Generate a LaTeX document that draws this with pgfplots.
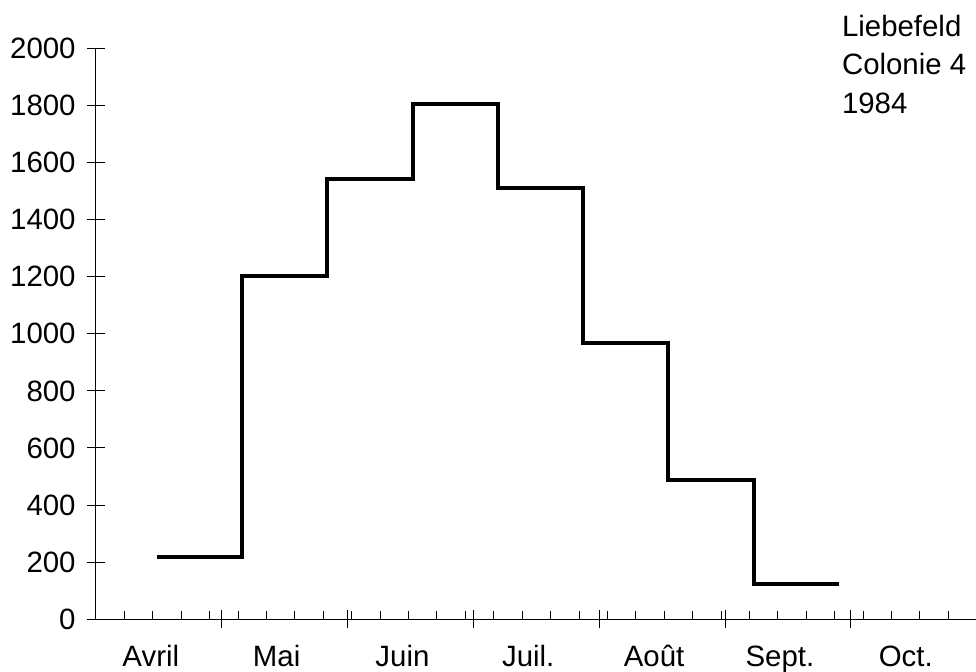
\documentclass[border=0pt]{standalone}
\usepackage{fontspec}
\setmainfont{Liberation Sans}
\usepackage{pgfplots}
\pgfplotsset{compat=1.18}
\newcommand{\lblfont}{\fontsize{14.7}{17.6}\selectfont}
\begin{document}
\lblfont
\begin{tikzpicture}
\begin{axis}[
  scale only axis,
  width=440pt, height=285.5pt,
  xmin=0, xmax=216.8,
  ymin=0, ymax=2000,
  axis x line*=bottom,
  axis y line*=left,
  axis line style={line width=0.5pt},
  clip=false,
  /pgf/number format/assume math mode=true,
  /pgf/number format/1000 sep={},
  tick label style={font=\lblfont},
  tick style={line width=0.5pt, black},
  tick align=center,
  major tick length=9pt,
  minor tick length=4pt,
  minor x tick style={yshift=2pt},
  ytick={0,200,...,2000},
  yticklabel style={anchor=east, inner sep=0pt, xshift=-5.5pt},
  xtick={31,62,93,124,155,186},
  xticklabels={},
  minor xtick={7,14,...,210},
  extra x ticks={13.5,44.5,75.5,106.5,137.5,168.5,199.5},
  extra x tick labels={Avril,Mai,Juin,Juil.,Août,Sept.,Oct.},
  extra x tick style={tick style={draw=none},
    xticklabel style={anchor=base, inner sep=0pt, yshift=-19pt}},
]
% weekly step values, Liebefeld colonie 4, 1984
\addplot[const plot, black, line width=2pt, line join=miter, mark=none]
coordinates {(15,217) (36,1202) (57,1542) (78,1804) (99,1510) (120,967) (141,488) (162,124) (183,124)};
\node[anchor=base west, inner sep=0pt] at (axis cs:183.7,2040.6) {Liebefeld};
\node[anchor=base west, inner sep=0pt] at (axis cs:183.7,1906.5) {Colonie 4};
\node[anchor=base west, inner sep=0pt] at (axis cs:183.7,1772.3) {1984};
\end{axis}
\pgfresetboundingbox
\path[use as bounding box] (-48pt,-26.35pt) rectangle (440pt,309.65pt);
\end{tikzpicture}
\end{document}
